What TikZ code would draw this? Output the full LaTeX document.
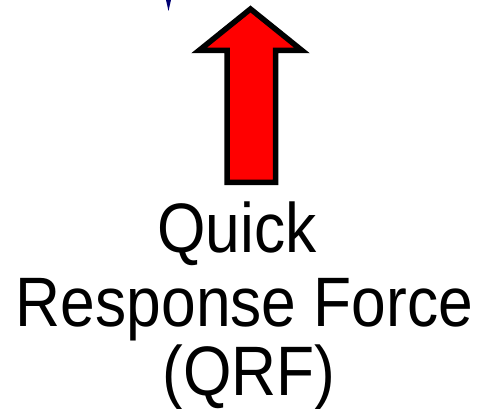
\documentclass[tikz,border=0pt]{standalone}
\usepackage{fontspec}
\setmainfont{Liberation Sans}
\usepackage{xcolor}
\usepackage{tikz}
\usetikzlibrary{positioning}

\begin{document}
\begin{tikzpicture}[
    x=1pt, y=1pt,
    bigarrow/.style={
        draw=black,
        line width=5.5pt,
        miter limit=10,
        fill=red
    },
    sliver/.style={
        fill=blue!45!black,
        draw=none
    },
    label/.style={
        font=\fontsize{70}{72}\selectfont,
        inner sep=0pt,
        anchor=base,
        xscale=0.89,
        transform shape
    }
]
\useasboundingbox (0,0) rectangle (483,409);

% tip of a cut-off marker at the top edge
\fill[sliver] (166,409) -- (171,409) -- (168.5,398) -- cycle;

% red block arrow
\draw[bigarrow]
    (250.5,400) -- (302,358.5) -- (275.5,358.5) -- (275.5,226.5)
    -- (227,226.5) -- (227,358.5) -- (199,358.5) -- cycle;

\node[label] (quick) at (237,156) {Quick};
\node[label] (response) at (244.5,82) {Response Force};
\node[label] (qrf) at (249,13) {(QRF)};

\end{tikzpicture}
\end{document}
